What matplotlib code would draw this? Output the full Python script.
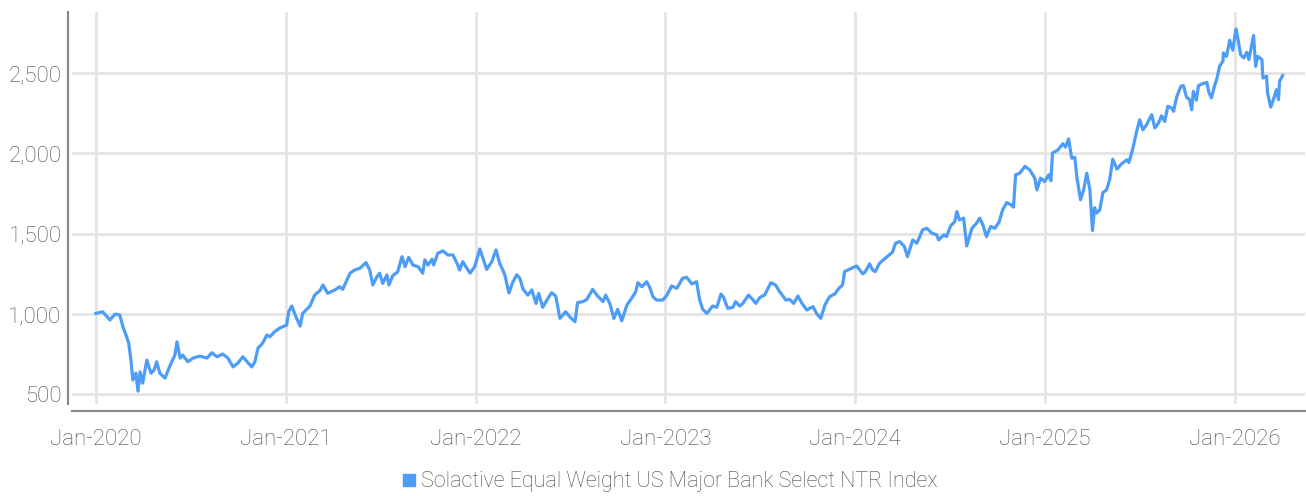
import numpy as np
import matplotlib
matplotlib.use('Agg')
from matplotlib import pyplot as plt
from matplotlib.lines import Line2D
from matplotlib.ticker import FuncFormatter

plt.rcParams['font.family'] = ['Roboto', 'DejaVu Sans']
plt.rcParams['font.weight'] = 'light'

series_name = 'Solactive Equal Weight US Major Bank Select NTR Index'
start_date = np.datetime64('2020-01-01')

# days after 2020-01-01
day_offsets = [
    0, 13, 27, 37, 46, 52, 60, 63, 67, 71, 77, 81, 85, 90, 98, 106, 112, 117, 123, 133,
    139, 146, 152, 156, 162, 167, 177, 187, 200, 214, 223, 233, 244, 254, 264, 273, 283, 291, 300, 306,
    312, 321, 329, 335, 344, 354, 367, 371, 377, 385, 393, 398, 412, 421, 431, 437, 446, 460, 469, 475,
    483, 489, 498, 508, 520, 527, 533, 541, 546, 552, 560, 564, 571, 581, 589, 595, 602, 610, 620, 629,
    633, 639, 647, 650, 658, 668, 677, 687, 695, 700, 706, 714, 720, 729, 739, 745, 752, 762, 770, 777,
    783, 787, 795, 802, 810, 816, 822, 831, 839, 847, 852, 860, 868, 877, 885, 893, 904, 912, 922, 927,
    937, 945, 956, 964, 976, 981, 989, 997, 1004, 1012, 1022, 1031, 1039, 1043, 1051, 1060, 1066, 1072, 1079, 1091,
    1099, 1108, 1118, 1129, 1137, 1147, 1156, 1162, 1168, 1176, 1187, 1195, 1203, 1208, 1216, 1226, 1231, 1239, 1245, 1256,
    1264, 1270, 1278, 1287, 1299, 1308, 1316, 1328, 1335, 1343, 1351, 1358, 1368, 1380, 1387, 1395, 1403, 1412, 1422, 1430,
    1437, 1441, 1451, 1464, 1476, 1481, 1489, 1495, 1500, 1508, 1522, 1533, 1539, 1547, 1556, 1562, 1572, 1580, 1591, 1599,
    1609, 1618, 1622, 1632, 1637, 1645, 1653, 1657, 1662, 1670, 1676, 1686, 1695, 1701, 1707, 1714, 1722, 1730, 1738, 1745,
    1753, 1761, 1766, 1770, 1778, 1788, 1797, 1807, 1811, 1818, 1826, 1834, 1838, 1841, 1851, 1861, 1866, 1872, 1878, 1884,
    1888, 1895, 1901, 1907, 1913, 1918, 1922, 1926, 1932, 1938, 1945, 1951, 1957, 1965, 1974, 1984, 1988, 1995, 2003, 2009,
    2015, 2022, 2032, 2038, 2045, 2051, 2057, 2063, 2070, 2074, 2080, 2088, 2093, 2099, 2105, 2109, 2112, 2118, 2122, 2130,
    2138, 2142, 2147, 2153, 2157, 2163, 2169, 2170, 2176, 2182, 2188, 2194, 2197, 2203, 2209, 2215, 2219, 2224, 2228, 2232,
    2236, 2244, 2246, 2253, 2255, 2261, 2265, 2272, 2276, 2278, 2284,
]

index_values = [
    1004, 1014, 963, 1000, 994, 921, 850, 819, 726, 589, 632, 520, 640, 570, 713, 632, 651, 703, 632, 601,
    651, 703, 744, 827, 726, 744, 703, 726, 738, 726, 759, 734, 751, 726, 671, 694, 734, 703, 671, 703,
    788, 819, 869, 859, 890, 913, 931, 1014, 1050, 983, 925, 1004, 1050, 1118, 1145, 1181, 1129, 1150, 1170, 1154,
    1212, 1254, 1274, 1285, 1320, 1274, 1181, 1233, 1254, 1191, 1243, 1181, 1237, 1264, 1357, 1295, 1353, 1305, 1295, 1254,
    1337, 1305, 1341, 1305, 1378, 1393, 1368, 1368, 1316, 1274, 1326, 1285, 1254, 1295, 1405, 1347, 1278, 1326, 1399, 1316,
    1274, 1243, 1131, 1196, 1245, 1222, 1155, 1118, 1150, 1066, 1129, 1042, 1087, 1133, 1112, 973, 1014, 983, 952, 1071,
    1077, 1091, 1154, 1118, 1077, 1118, 1066, 973, 1029, 958, 1056, 1098, 1139, 1195, 1170, 1201, 1165, 1108, 1087, 1087,
    1118, 1175, 1160, 1222, 1229, 1187, 1201, 1087, 1029, 1004, 1050, 1042, 1125, 1104, 1035, 1042, 1077, 1050, 1066, 1118,
    1091, 1066, 1104, 1118, 1195, 1181, 1139, 1087, 1091, 1066, 1112, 1071, 1025, 1046, 1004, 973, 1056, 1108, 1125, 1160,
    1181, 1264, 1280, 1299, 1250, 1264, 1312, 1274, 1264, 1316, 1355, 1385, 1441, 1451, 1420, 1357, 1461, 1441, 1524, 1534,
    1503, 1493, 1461, 1493, 1482, 1549, 1576, 1638, 1586, 1597, 1424, 1534, 1566, 1597, 1555, 1482, 1545, 1534, 1571, 1648,
    1694, 1680, 1665, 1867, 1877, 1919, 1898, 1846, 1773, 1846, 1825, 1867, 1830, 2002, 2020, 2060, 2039, 2090, 1970, 1975,
    1850, 1711, 1773, 1877, 1773, 1520, 1662, 1628, 1648, 1756, 1773, 1835, 1964, 1902, 1935, 1960, 1943, 2022, 2137, 2209,
    2147, 2178, 2241, 2158, 2189, 2234, 2199, 2293, 2283, 2262, 2350, 2418, 2422, 2350, 2334, 2271, 2386, 2331, 2422, 2434,
    2442, 2380, 2345, 2422, 2460, 2546, 2573, 2625, 2604, 2704, 2642, 2774, 2730, 2615, 2594, 2629, 2584, 2667, 2734, 2542,
    2604, 2584, 2469, 2480, 2375, 2288, 2323, 2396, 2334, 2449, 2484,
]

y_ticks = [500, 1000, 1500, 2000, 2500]
x_tick_labels = ['Jan-2020', 'Jan-2021', 'Jan-2022', 'Jan-2023', 'Jan-2024', 'Jan-2025', 'Jan-2026']

line_color = '#4d9cf7'
text_color = '#484848'
grid_color = '#e4e4e4'

dates = start_date + np.array(day_offsets).astype('timedelta64[D]')
x_ticks = [np.datetime64(f'{lbl[-4:]}-01-01') for lbl in x_tick_labels]

fig = plt.figure(figsize=(13.06, 4.96), dpi=100)
ax = fig.add_axes([72 / 1306, 1 - 404 / 496, (1305 - 72) / 1306, (404 - 12) / 496])

ax.plot(dates, index_values, color=line_color, linewidth=2.3, solid_joinstyle='round')

ax.set_xlim(np.datetime64('2019-11-16'), np.datetime64('2026-05-16'))
ax.set_ylim(440, 2880)
ax.set_xticks(x_ticks)
ax.set_xticklabels(x_tick_labels)
ax.set_yticks(y_ticks)
ax.yaxis.set_major_formatter(FuncFormatter(lambda v, p: f'{v:,.0f}'))

ax.grid(True, color=grid_color, linewidth=2.0)
ax.set_axisbelow(True)
ax.tick_params(length=0, labelsize=16, labelcolor=text_color)
ax.tick_params(axis='x', pad=13)
ax.tick_params(axis='y', pad=4.5)

for side in ('top', 'right'):
    ax.spines[side].set_visible(False)
ax.spines['left'].set_position(('outward', 3))
ax.spines['bottom'].set_position(('outward', 5))
for side in ('left', 'bottom'):
    ax.spines[side].set_color('#8a8a8a')
    ax.spines[side].set_linewidth(1.6)

handle = Line2D([], [], marker='s', linestyle='none', color=line_color, markersize=8)
fig.legend([handle], [series_name], loc='center', bbox_to_anchor=(0.513, 1 - 482 / 496),
           frameon=False, fontsize=15.5, handlelength=0.6, handletextpad=0.25,
           labelcolor=text_color)

fig.savefig('out.png', dpi=100)
